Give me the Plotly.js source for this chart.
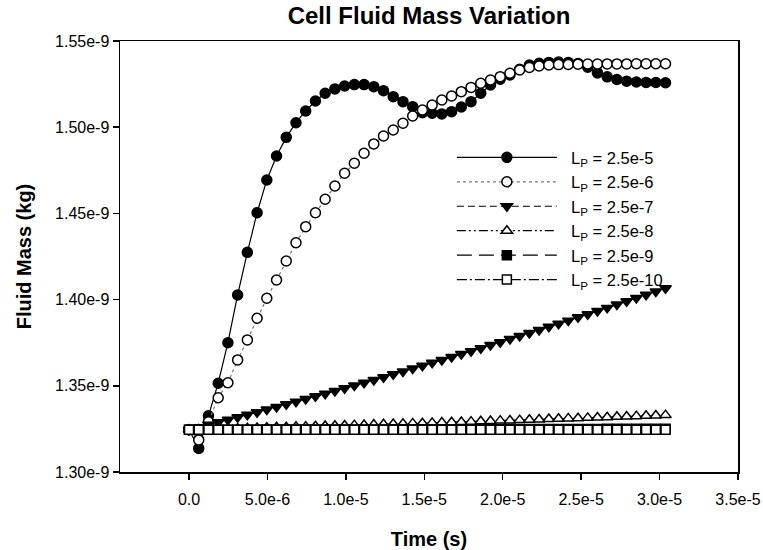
<!DOCTYPE html>
<html>
<head>
<meta charset="utf-8">
<script src="https://cdn.plot.ly/plotly-3.0.1.min.js"></script>
<style>html,body{margin:0;padding:0;background:#fff;}#chart{width:763px;height:550px;}</style>
</head>
<body>
<div id="chart"></div>
<script>
// Time in microseconds
var timeMicro = [0, 0.62, 1.24, 1.86, 2.48, 3.1, 3.72, 4.34, 4.96, 5.58, 6.2, 6.82, 7.44, 8.06, 8.68, 9.3, 9.92, 10.54, 11.16, 11.78, 12.4, 13.02, 13.64, 14.26, 14.88, 15.5, 16.12, 16.74, 17.36, 17.98, 18.6, 19.22, 19.84, 20.46, 21.08, 21.7, 22.32, 22.94, 23.56, 24.18, 24.8, 25.42, 26.04, 26.66, 27.28, 27.9, 28.52, 29.14, 29.76, 30.38];

// Fluid mass in units of 1e-9 kg
var massLp25e5 = [1.3245, 1.3137, 1.3326, 1.3515, 1.3750, 1.4027, 1.4274, 1.4504, 1.4694, 1.4833, 1.4941, 1.5026, 1.5094, 1.5152, 1.5197, 1.5222, 1.5239, 1.5247, 1.5247, 1.5235, 1.5212, 1.5177, 1.5148, 1.5119, 1.5084, 1.5081, 1.5077, 1.5090, 1.5117, 1.5148, 1.5197, 1.5245, 1.5278, 1.5303, 1.5336, 1.5361, 1.5371, 1.5376, 1.5378, 1.5376, 1.5370, 1.5348, 1.5315, 1.5292, 1.5277, 1.5267, 1.5262, 1.5260, 1.5259, 1.5258];
var massLp25e6 = [1.3245, 1.3186, 1.3292, 1.3431, 1.3518, 1.3650, 1.3766, 1.3892, 1.4008, 1.4114, 1.4224, 1.4330, 1.4423, 1.4504, 1.4582, 1.4659, 1.4733, 1.4791, 1.4849, 1.4903, 1.4949, 1.4984, 1.5023, 1.5065, 1.5100, 1.5129, 1.5158, 1.5181, 1.5206, 1.5231, 1.5255, 1.5274, 1.5293, 1.5313, 1.5332, 1.5347, 1.5355, 1.5361, 1.5363, 1.5364, 1.5365, 1.5366, 1.5366, 1.5367, 1.5367, 1.5367, 1.5368, 1.5368, 1.5368, 1.5368];
var massLp25e7 = [1.3245, 1.3259, 1.3274, 1.3288, 1.3303, 1.3317, 1.3332, 1.3347, 1.3362, 1.3377, 1.3393, 1.3408, 1.3423, 1.3439, 1.3454, 1.3470, 1.3486, 1.3502, 1.3518, 1.3534, 1.3550, 1.3567, 1.3583, 1.3600, 1.3616, 1.3633, 1.3650, 1.3667, 1.3684, 1.3701, 1.3718, 1.3736, 1.3753, 1.3771, 1.3789, 1.3806, 1.3824, 1.3842, 1.3860, 1.3878, 1.3897, 1.3915, 1.3934, 1.3952, 1.3971, 1.3990, 1.4009, 1.4028, 1.4047, 1.4066];
var massLp25e8 = [1.3245, 1.3246, 1.3248, 1.3249, 1.3251, 1.3253, 1.3254, 1.3256, 1.3257, 1.3259, 1.3260, 1.3262, 1.3263, 1.3265, 1.3267, 1.3268, 1.3270, 1.3272, 1.3273, 1.3275, 1.3277, 1.3278, 1.3280, 1.3282, 1.3283, 1.3285, 1.3287, 1.3289, 1.3290, 1.3292, 1.3294, 1.3296, 1.3298, 1.3299, 1.3301, 1.3303, 1.3305, 1.3307, 1.3309, 1.3311, 1.3312, 1.3314, 1.3316, 1.3318, 1.3320, 1.3322, 1.3324, 1.3326, 1.3328, 1.3330];
var massLp25e9 = [1.32450, 1.32451, 1.32452, 1.32453, 1.32454, 1.32455, 1.32456, 1.32457, 1.32459, 1.32460, 1.32461, 1.32462, 1.32463, 1.32464, 1.32465, 1.32466, 1.32468, 1.32469, 1.32470, 1.32471, 1.32472, 1.32474, 1.32475, 1.32476, 1.32477, 1.32478, 1.32480, 1.32481, 1.32482, 1.32483, 1.32485, 1.32486, 1.32487, 1.32488, 1.32490, 1.32491, 1.32492, 1.32494, 1.32495, 1.32496, 1.32498, 1.32499, 1.32500, 1.32502, 1.32503, 1.32504, 1.32506, 1.32507, 1.32509, 1.32510];
var massLp25e10 = [1.32450, 1.32450, 1.32450, 1.32450, 1.32450, 1.32450, 1.32450, 1.32450, 1.32450, 1.32450, 1.32451, 1.32451, 1.32451, 1.32451, 1.32451, 1.32451, 1.32451, 1.32451, 1.32451, 1.32451, 1.32452, 1.32452, 1.32452, 1.32452, 1.32452, 1.32452, 1.32452, 1.32452, 1.32452, 1.32452, 1.32454, 1.32454, 1.32454, 1.32454, 1.32454, 1.32454, 1.32454, 1.32454, 1.32454, 1.32454, 1.32456, 1.32456, 1.32456, 1.32456, 1.32456, 1.32456, 1.32456, 1.32456, 1.32456, 1.32456];

var seriesNames = ["\u00a0\u00a0L<sub>P</sub> = 2.5e-5", "\u00a0\u00a0L<sub>P</sub> = 2.5e-6", "\u00a0\u00a0L<sub>P</sub> = 2.5e-7", "\u00a0\u00a0L<sub>P</sub> = 2.5e-8", "\u00a0\u00a0L<sub>P</sub> = 2.5e-9", "\u00a0\u00a0L<sub>P</sub> = 2.5e-10"];
var seriesData = [massLp25e5, massLp25e6, massLp25e7, massLp25e8, massLp25e9, massLp25e10];

var xTickVals = [0, 5e-6, 1e-5, 1.5e-5, 2e-5, 2.5e-5, 3e-5, 3.5e-5];
var xTickText = ["0.0", "5.0e-6", "1.0e-5", "1.5e-5", "2.0e-5", "2.5e-5", "3.0e-5", "3.5e-5"];
var yTickVals = [1.30e-9, 1.35e-9, 1.40e-9, 1.45e-9, 1.50e-9, 1.55e-9];
var yTickText = ["1.30e-9", "1.35e-9", "1.40e-9", "1.45e-9", "1.50e-9", "1.55e-9"];

var styles = [
  {dash: 'solid', lc: '#000', sym: 'circle', fill: '#000', size: 10},
  {dash: 'dot', lc: '#777', sym: 'circle', fill: '#fff', size: 10},
  {dash: '7px,4px', lc: '#000', sym: 'triangle-down', fill: '#000', size: 10},
  {dash: '9px,3px,2px,3px,2px,3px', lc: '#000', sym: 'triangle-up', fill: '#fff', size: 10},
  {dash: '15px,7px', lc: '#000', sym: 'square', fill: '#000', size: 9},
  {dash: '10px,3px,2px,3px', lc: '#000', sym: 'square', fill: '#fff', size: 9}
];

var t = timeMicro.map(function (v) { return v * 1e-6; });
var traces = seriesData.map(function (arr, k) {
  var s = styles[k];
  return {
    x: t,
    y: arr.map(function (v) { return v * 1e-9; }),
    type: 'scatter',
    mode: 'lines+markers',
    name: seriesNames[k],
    line: {color: s.lc, width: 1.2, dash: s.dash},
    marker: {symbol: s.sym, size: s.size, color: s.fill, line: {color: '#000', width: 1.5}},
    cliponaxis: false
  };
});

var fontFam = 'Liberation Sans, Arial, sans-serif';
var layout = {
  width: 763,
  height: 550,
  margin: {l: 120, r: 25, t: 41, b: 78},
  paper_bgcolor: '#fff',
  plot_bgcolor: '#fff',
  font: {family: fontFam, color: '#000', size: 16},
  showlegend: true,
  title: {
    text: 'Cell Fluid Mass Variation',
    font: {family: fontFam, size: 24, weight: 'bold', color: '#000'},
    x: 0.5, xref: 'paper', xanchor: 'center',
    y: 0.971, yref: 'container', yanchor: 'middle'
  },
  xaxis: {
    range: [-4.4e-6, 3.5e-5],
    tickvals: xTickVals, ticktext: xTickText,
    showline: true, linecolor: '#000', linewidth: 1.5, mirror: true,
    ticks: 'outside', ticklen: 6, tickwidth: 1.5, tickcolor: '#000',
    ticklabelstandoff: 6,
    showgrid: false, zeroline: false,
    tickfont: {size: 16, family: fontFam},
    title: {text: 'Time (s)', font: {size: 20, weight: 'bold', family: fontFam}, standoff: 28}
  },
  yaxis: {
    range: [1.30e-9, 1.55e-9],
    tickvals: yTickVals, ticktext: yTickText,
    showline: true, linecolor: '#000', linewidth: 1.5, mirror: true,
    ticks: 'outside', ticklen: 6, tickwidth: 1.5, tickcolor: '#000',
    showgrid: false, zeroline: false,
    tickfont: {size: 16, family: fontFam},
    title: {text: 'Fluid Mass (kg)', font: {size: 20, weight: 'bold', family: fontFam}, standoff: 18}
  },
  legend: {
    x: 0.537, xanchor: 'left',
    y: 0.770, yanchor: 'top',
    bgcolor: 'rgba(0,0,0,0)',
    borderwidth: 0,
    itemwidth: 100,
    font: {size: 16.5, family: fontFam, color: '#000'}
  }
};

Plotly.newPlot('chart', traces, layout, {displayModeBar: false, staticPlot: true});
</script>
</body>
</html>
